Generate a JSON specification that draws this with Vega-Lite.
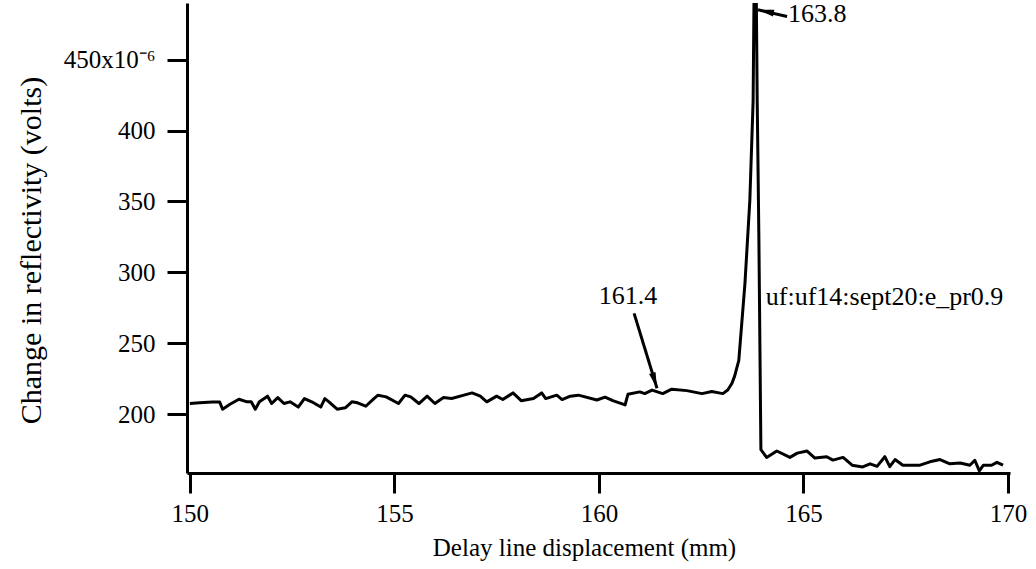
{
  "$schema": "https://vega.github.io/schema/vega-lite/v6.json",
  "width": 823,
  "height": 470,
  "padding": {"left": 187, "top": 3, "right": 26, "bottom": 96},
  "autosize": {"type": "none"},
  "background": "white",
  "config": {
    "view": {"stroke": null},
    "font": "Liberation Serif",
    "axis": {
      "labelFont": "Liberation Serif",
      "titleFont": "Liberation Serif",
      "labelFontSize": 25,
      "titleFontSize": 25,
      "titleFontWeight": "normal",
      "labelColor": "black",
      "titleColor": "black",
      "domainColor": "black",
      "tickColor": "black",
      "domainWidth": 3,
      "tickWidth": 3,
      "grid": false
    }
  },
  "datasets": {
    "trace": [
      {"mm": 150.0, "v": 207.5}, {"mm": 150.24, "v": 208}, {"mm": 150.55, "v": 208.5}, {"mm": 150.73, "v": 208.5},
      {"mm": 150.8, "v": 203.5}, {"mm": 150.98, "v": 207}, {"mm": 151.2, "v": 210.5}, {"mm": 151.4, "v": 208.7},
      {"mm": 151.5, "v": 208.7}, {"mm": 151.6, "v": 203.5}, {"mm": 151.7, "v": 208.7}, {"mm": 151.9, "v": 212.7},
      {"mm": 152.0, "v": 207.5}, {"mm": 152.15, "v": 211.7}, {"mm": 152.3, "v": 207.5}, {"mm": 152.45, "v": 208.7},
      {"mm": 152.65, "v": 205}, {"mm": 152.8, "v": 211}, {"mm": 152.98, "v": 208.7}, {"mm": 153.2, "v": 205},
      {"mm": 153.3, "v": 211}, {"mm": 153.4, "v": 208.7}, {"mm": 153.6, "v": 203.5}, {"mm": 153.8, "v": 204.5},
      {"mm": 153.96, "v": 208.7}, {"mm": 154.1, "v": 208}, {"mm": 154.3, "v": 205.6}, {"mm": 154.5, "v": 211},
      {"mm": 154.6, "v": 213.4}, {"mm": 154.8, "v": 212.2}, {"mm": 155.1, "v": 207.5}, {"mm": 155.26, "v": 213.4},
      {"mm": 155.4, "v": 212.2}, {"mm": 155.6, "v": 207.5}, {"mm": 155.8, "v": 212.7}, {"mm": 155.99, "v": 207.5},
      {"mm": 156.2, "v": 211.7}, {"mm": 156.4, "v": 211}, {"mm": 156.7, "v": 213.4}, {"mm": 156.9, "v": 215},
      {"mm": 157.1, "v": 212.7}, {"mm": 157.26, "v": 208.7}, {"mm": 157.5, "v": 212.7}, {"mm": 157.65, "v": 210.3},
      {"mm": 157.9, "v": 215}, {"mm": 158.1, "v": 209.5}, {"mm": 158.4, "v": 211}, {"mm": 158.6, "v": 215},
      {"mm": 158.7, "v": 211}, {"mm": 158.97, "v": 213.4}, {"mm": 159.1, "v": 210.3}, {"mm": 159.3, "v": 212.7},
      {"mm": 159.5, "v": 213.4}, {"mm": 159.95, "v": 210}, {"mm": 160.15, "v": 212}, {"mm": 160.34, "v": 209.5},
      {"mm": 160.64, "v": 206.5}, {"mm": 160.71, "v": 214}, {"mm": 161.0, "v": 215.7}, {"mm": 161.12, "v": 214.5},
      {"mm": 161.3, "v": 217}, {"mm": 161.56, "v": 214.5}, {"mm": 161.78, "v": 217.6}, {"mm": 162.15, "v": 216.6},
      {"mm": 162.52, "v": 214.5}, {"mm": 162.76, "v": 216}, {"mm": 163.03, "v": 214.5}, {"mm": 163.15, "v": 217},
      {"mm": 163.25, "v": 221.6}, {"mm": 163.32, "v": 227}, {"mm": 163.42, "v": 238}, {"mm": 163.57, "v": 292},
      {"mm": 163.69, "v": 351}, {"mm": 163.77, "v": 421}, {"mm": 163.8, "v": 520}, {"mm": 163.84, "v": 520},
      {"mm": 163.87, "v": 421}, {"mm": 163.91, "v": 327}, {"mm": 163.96, "v": 175}, {"mm": 164.1, "v": 169.5},
      {"mm": 164.35, "v": 174}, {"mm": 164.67, "v": 169.5}, {"mm": 164.85, "v": 172.5}, {"mm": 165.09, "v": 174},
      {"mm": 165.28, "v": 169}, {"mm": 165.57, "v": 170}, {"mm": 165.72, "v": 167.6}, {"mm": 165.97, "v": 169.5},
      {"mm": 166.19, "v": 164}, {"mm": 166.45, "v": 162.8}, {"mm": 166.63, "v": 165}, {"mm": 166.8, "v": 163.2},
      {"mm": 166.99, "v": 170}, {"mm": 167.11, "v": 163}, {"mm": 167.24, "v": 168}, {"mm": 167.43, "v": 164},
      {"mm": 167.85, "v": 164}, {"mm": 168.09, "v": 166.4}, {"mm": 168.34, "v": 168}, {"mm": 168.58, "v": 165},
      {"mm": 168.83, "v": 165.5}, {"mm": 169.07, "v": 164}, {"mm": 169.19, "v": 167.5}, {"mm": 169.3, "v": 160},
      {"mm": 169.4, "v": 164}, {"mm": 169.6, "v": 164}, {"mm": 169.73, "v": 166}, {"mm": 169.88, "v": 164}
    ],
    "labelsCenter": [
      {"mm": 160.71, "v": 283.5, "t": "161.4"}
    ],
    "labelsLeft": [
      {"mm": 164.62, "v": 482.4, "t": "163.8"},
      {"mm": 164.08, "v": 282.4, "t": "uf:uf14:sept20:e_pr0.9"}
    ],
    "arrows": [
      {"mm": 160.86, "v": 271.1, "mm2": 161.42, "v2": 218.3, "ang": 163},
      {"mm": 164.6, "v": 480.5, "mm2": 163.89, "v2": 485.2, "ang": 282}
    ]
  },
  "layer": [
    {
      "data": {"name": "trace"},
      "mark": {"type": "line", "color": "black", "strokeWidth": 3, "clip": true, "strokeJoin": "round"},
      "encoding": {
        "x": {
          "field": "mm", "type": "quantitative",
          "scale": {"domain": [149.93, 170.05], "nice": false, "zero": false},
          "axis": {
            "title": "Delay line displacement (mm)",
            "values": [150, 155, 160, 165, 170],
            "tickSize": 20,
            "labelPadding": 8,
            "titleX": 397,
            "titleY": 74,
            "titleBaseline": "middle",
            "labelFlush": false
          }
        },
        "y": {
          "field": "v", "type": "quantitative",
          "scale": {"domain": [158.5, 490], "nice": false, "zero": false},
          "axis": {
            "title": "Change in reflectivity (volts)",
            "values": [200, 250, 300, 350, 400, 450],
            "labelExpr": "datum.value == 450 ? '450x10⁻⁶' : datum.label",
            "tickSize": 20,
            "labelPadding": 12,
            "titleFontSize": 30,
            "titleX": -156,
            "titleY": 247,
            "titleAngle": -90,
            "titleAlign": "center",
            "titleBaseline": "middle",
            "labelFlush": false
          }
        }
      }
    },
    {
      "data": {"name": "arrows"},
      "mark": {"type": "rule", "color": "black", "strokeWidth": 3},
      "encoding": {
        "x": {"field": "mm", "type": "quantitative"},
        "y": {"field": "v", "type": "quantitative"},
        "x2": {"field": "mm2"},
        "y2": {"field": "v2"}
      }
    },
    {
      "data": {"name": "arrows"},
      "mark": {"type": "point", "shape": "M0,0L-0.42,2L0.42,2Z", "filled": true, "color": "black", "size": 256, "opacity": 1},
      "encoding": {
        "x": {"field": "mm2", "type": "quantitative"},
        "y": {"field": "v2", "type": "quantitative"},
        "angle": {"field": "ang", "type": "quantitative", "scale": null}
      }
    },
    {
      "data": {"name": "labelsCenter"},
      "mark": {"type": "text", "font": "Liberation Serif", "fontSize": 26, "color": "black", "baseline": "middle", "align": "center"},
      "encoding": {
        "x": {"field": "mm", "type": "quantitative"},
        "y": {"field": "v", "type": "quantitative"},
        "text": {"field": "t"}
      }
    },
    {
      "data": {"name": "labelsLeft"},
      "mark": {"type": "text", "font": "Liberation Serif", "fontSize": 26, "color": "black", "baseline": "middle", "align": "left"},
      "encoding": {
        "x": {"field": "mm", "type": "quantitative"},
        "y": {"field": "v", "type": "quantitative"},
        "text": {"field": "t"}
      }
    }
  ]
}
